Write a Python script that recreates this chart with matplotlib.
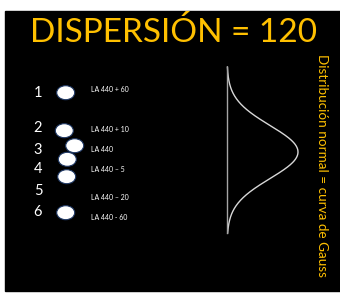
import numpy as np
import matplotlib.pyplot as plt
from matplotlib.patches import Ellipse, Rectangle

# data
numeros = ['1', '2', '3', '4', '5', '6']
notas = ['LA 440 + 60', 'LA 440 + 10', 'LA 440', 'LA 440 \u2013 5', 'LA 440 \u2013 20', 'LA 440 - 60']
titulo = 'DISPERSI\u00d3N = 120'
leyenda = 'Distribuci\u00f3n normal = curva de Gauss'

# layout (pixel coords)
num_y = [93, 128, 150, 169, 191, 212]
bola_x = [65.7, 64.3, 74.7, 67.3, 66.7, 65.7]
bola_y = [92.7, 130.7, 145.7, 159.3, 176.7, 212.7]
nota_y = [90, 129, 149, 169, 197, 217]

W, H = 340, 293
fig = plt.figure(figsize=(W / 100, H / 100), dpi=100)
ax = fig.add_axes([0, 0, 1, 1])
ax.set_xlim(0, W)
ax.set_ylim(H, 0)
ax.axis('off')

amarillo = '#ffc000'
ax.add_patch(Rectangle((5, 11), 335, 280, color='black', zorder=0))

ax.text(174, 32, titulo, color=amarillo, fontsize=24, family='Lato',
        ha='center', va='center')

for n, y in zip(numeros, num_y):
    ax.text(38, y, n, color='white', fontsize=10.5, family='Lato', ha='center', va='center')

for x, y in zip(bola_x, bola_y):
    ax.add_patch(Ellipse((x, y), 18, 14, facecolor='white', edgecolor='#1f3864', lw=0.8))

for t, y in zip(notas, nota_y):
    ax.text(91, y, t, color='white', fontsize=5, family='Lato', ha='left', va='center')

# curva de Gauss (vertical)
y = np.linspace(67, 233, 300)
x = 227 + 71 * np.exp(-0.5 * ((y - 152) / 26.5) ** 2)
ax.plot(x, y, color='#d8d8d8', lw=1.0)
ax.plot([227, 227], [67, 233], color='#a6a6a6', lw=1.0)

ax.text(322, 166, leyenda, color=amarillo, fontsize=9.7, family='Lato',
        rotation=-90, ha='center', va='center')

fig.savefig('out.png', dpi=100)
